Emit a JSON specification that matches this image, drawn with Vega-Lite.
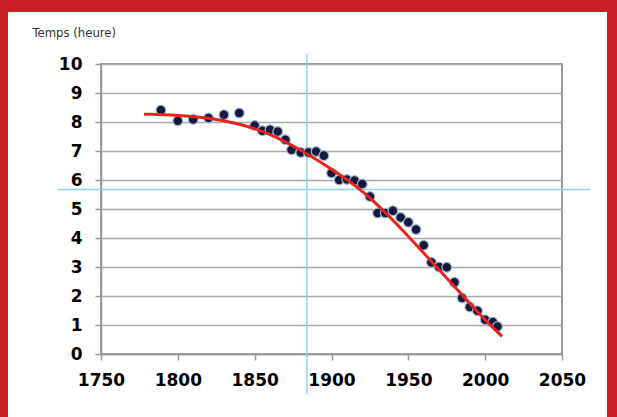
{
  "$schema": "https://vega.github.io/schema/vega-lite/v6.json",
  "width": 461,
  "height": 290,
  "padding": {"left": 101, "top": 64, "right": 55, "bottom": 63},
  "autosize": {"type": "none"},
  "background": "white",
  "datasets": {
    "one": [{"k": 1}],
    "points": [
      {"year": 1789, "t": 8.41}, {"year": 1800, "t": 8.04}, {"year": 1810, "t": 8.09},
      {"year": 1820, "t": 8.14}, {"year": 1830, "t": 8.25}, {"year": 1840, "t": 8.31},
      {"year": 1850, "t": 7.88}, {"year": 1855, "t": 7.70}, {"year": 1860, "t": 7.73},
      {"year": 1865, "t": 7.67}, {"year": 1870, "t": 7.39}, {"year": 1874, "t": 7.04},
      {"year": 1880, "t": 6.95}, {"year": 1885, "t": 6.95}, {"year": 1890, "t": 6.98},
      {"year": 1895, "t": 6.84}, {"year": 1900, "t": 6.24}, {"year": 1905, "t": 6.0},
      {"year": 1910, "t": 6.02}, {"year": 1915, "t": 5.98}, {"year": 1920, "t": 5.86},
      {"year": 1925, "t": 5.43}, {"year": 1930, "t": 4.86}, {"year": 1935, "t": 4.86},
      {"year": 1940, "t": 4.94}, {"year": 1945, "t": 4.71}, {"year": 1950, "t": 4.54},
      {"year": 1955, "t": 4.29}, {"year": 1960, "t": 3.75}, {"year": 1965, "t": 3.16},
      {"year": 1970, "t": 3.0}, {"year": 1975, "t": 2.99}, {"year": 1980, "t": 2.47},
      {"year": 1985, "t": 1.93}, {"year": 1990, "t": 1.62}, {"year": 1995, "t": 1.49},
      {"year": 2000, "t": 1.18}, {"year": 2005, "t": 1.10}, {"year": 2008, "t": 0.95}
    ],
    "curve": [
      {"year": 1778, "t": 8.27}, {"year": 1800, "t": 8.23}, {"year": 1820, "t": 8.15},
      {"year": 1840, "t": 7.95}, {"year": 1860, "t": 7.6}, {"year": 1880, "t": 7.04},
      {"year": 1900, "t": 6.38}, {"year": 1920, "t": 5.66}, {"year": 1940, "t": 4.63},
      {"year": 1960, "t": 3.48}, {"year": 1980, "t": 2.33}, {"year": 2000, "t": 1.15},
      {"year": 2011, "t": 0.61}
    ]
  },
  "config": {
    "view": {"stroke": "#7a7a7a", "strokeWidth": 1.5},
    "axis": {"labelFlush": false, "labelOverlap": false},
    "axisX": {
      "domainColor": "#999999", "domainWidth": 1.5,
      "tickColor": "#999999", "tickWidth": 1.5, "tickSize": 6,
      "grid": false,
      "labelFont": "DejaVu Sans", "labelFontSize": 17, "labelFontWeight": "bold",
      "labelColor": "#000000", "labelPadding": 12
    },
    "axisY": {
      "domainColor": "#999999", "domainWidth": 1.5,
      "tickColor": "#999999", "tickWidth": 1.5, "tickSize": 6,
      "grid": true, "gridColor": "#a8a8a8", "gridWidth": 1.5,
      "labelFont": "DejaVu Sans", "labelFontSize": 17, "labelFontWeight": "bold",
      "labelColor": "#000000", "labelPadding": 13,
      "titleAngle": 0, "titleX": -69, "titleY": -28, "titleAlign": "left",
      "titleBaseline": "alphabetic",
      "titleFont": "DejaVu Sans Condensed, Liberation Sans Narrow, Liberation Sans", "titleFontSize": 13,
      "titleFontWeight": "normal", "titleColor": "#333333"
    }
  },
  "layer": [
    {
      "data": {"name": "one"},
      "mark": {"type": "rect", "color": "#c81e26"},
      "encoding": {
        "x": {"datum": 1600, "type": "quantitative", "scale": {"domain": [1750, 2050], "nice": false, "zero": false},
              "axis": {"values": [1750, 1800, 1850, 1900, 1950, 2000, 2050], "format": "d", "title": null}},
        "x2": {"datum": 1689.5},
        "y": {"datum": -5, "type": "quantitative", "scale": {"domain": [0, 10], "nice": false},
              "axis": {"values": [0, 1, 2, 3, 4, 5, 6, 7, 8, 9, 10], "title": "Temps (heure)"}},
        "y2": {"datum": 15}
      }
    },
    {
      "data": {"name": "one"},
      "mark": {"type": "rect", "color": "#c81e26"},
      "encoding": {
        "x": {"datum": 2079.3, "type": "quantitative", "scale": {"domain": [1750, 2050], "nice": false, "zero": false},
              "axis": {"values": [1750, 1800, 1850, 1900, 1950, 2000, 2050], "format": "d", "title": null}},
        "x2": {"datum": 2200},
        "y": {"datum": -5, "type": "quantitative", "scale": {"domain": [0, 10], "nice": false},
              "axis": {"values": [0, 1, 2, 3, 4, 5, 6, 7, 8, 9, 10], "title": "Temps (heure)"}},
        "y2": {"datum": 15}
      }
    },
    {
      "data": {"name": "one"},
      "mark": {"type": "rect", "color": "#c81e26"},
      "encoding": {
        "x": {"datum": 1600, "type": "quantitative", "scale": {"domain": [1750, 2050], "nice": false, "zero": false},
              "axis": {"values": [1750, 1800, 1850, 1900, 1950, 2000, 2050], "format": "d", "title": null}},
        "x2": {"datum": 2200},
        "y": {"datum": 11.79, "type": "quantitative", "scale": {"domain": [0, 10], "nice": false},
              "axis": {"values": [0, 1, 2, 3, 4, 5, 6, 7, 8, 9, 10], "title": "Temps (heure)"}},
        "y2": {"datum": 15}
      }
    },
    {
      "data": {"name": "one"},
      "mark": {"type": "rule", "color": "#8fd3e6", "strokeWidth": 1.5},
      "encoding": {
        "x": {"datum": 1884, "type": "quantitative", "scale": {"domain": [1750, 2050], "nice": false, "zero": false},
              "axis": {"values": [1750, 1800, 1850, 1900, 1950, 2000, 2050], "format": "d", "title": null}},
        "y": {"datum": -1.4, "type": "quantitative", "scale": {"domain": [0, 10], "nice": false},
              "axis": {"values": [0, 1, 2, 3, 4, 5, 6, 7, 8, 9, 10], "title": "Temps (heure)"}},
        "y2": {"datum": 10.36}
      }
    },
    {
      "data": {"name": "one"},
      "mark": {"type": "rule", "color": "#8fd3e6", "strokeWidth": 1.5},
      "encoding": {
        "x": {"datum": 1721.6, "type": "quantitative", "scale": {"domain": [1750, 2050], "nice": false, "zero": false},
              "axis": {"values": [1750, 1800, 1850, 1900, 1950, 2000, 2050], "format": "d", "title": null}},
        "x2": {"datum": 2068.4},
        "y": {"datum": 5.67, "type": "quantitative", "scale": {"domain": [0, 10], "nice": false},
              "axis": {"values": [0, 1, 2, 3, 4, 5, 6, 7, 8, 9, 10], "title": "Temps (heure)"}}
      }
    },
    {
      "data": {"name": "points"},
      "mark": {"type": "circle", "size": 95, "fill": "#17173f", "fillOpacity": 1, "stroke": "#9dbccb", "strokeWidth": 1.2, "opacity": 1},
      "encoding": {
        "x": {"field": "year", "type": "quantitative", "scale": {"domain": [1750, 2050], "nice": false, "zero": false},
              "axis": {"values": [1750, 1800, 1850, 1900, 1950, 2000, 2050], "format": "d", "title": null}},
        "y": {"field": "t", "type": "quantitative", "scale": {"domain": [0, 10], "nice": false},
              "axis": {"values": [0, 1, 2, 3, 4, 5, 6, 7, 8, 9, 10], "title": "Temps (heure)"}}
      }
    },
    {
      "data": {"name": "curve"},
      "mark": {"type": "line", "color": "#e8231d", "strokeWidth": 3, "interpolate": "basis"},
      "encoding": {
        "x": {"field": "year", "type": "quantitative", "scale": {"domain": [1750, 2050], "nice": false, "zero": false},
              "axis": {"values": [1750, 1800, 1850, 1900, 1950, 2000, 2050], "format": "d", "title": null}},
        "y": {"field": "t", "type": "quantitative", "scale": {"domain": [0, 10], "nice": false},
              "axis": {"values": [0, 1, 2, 3, 4, 5, 6, 7, 8, 9, 10], "title": "Temps (heure)"}}
      }
    }
  ]
}
